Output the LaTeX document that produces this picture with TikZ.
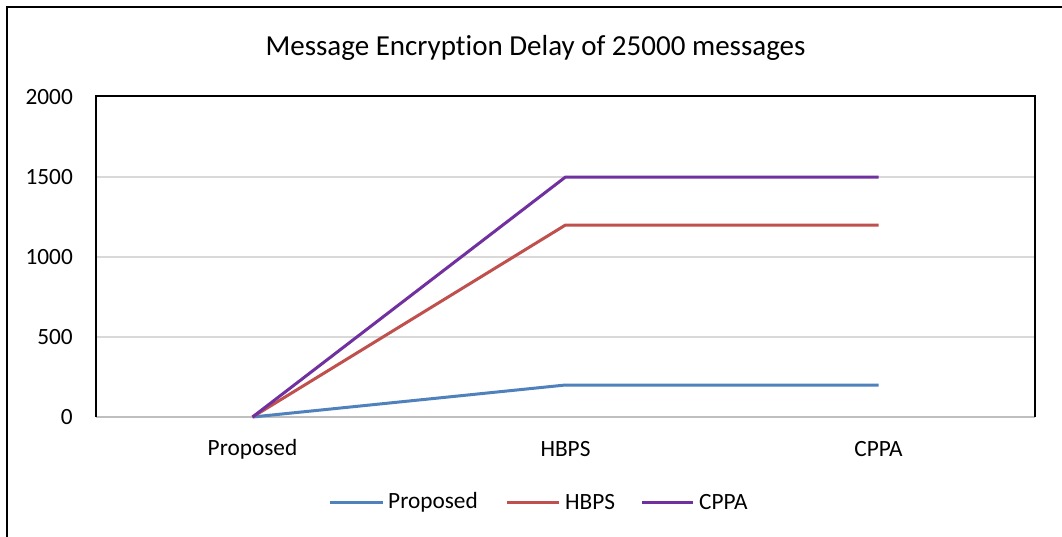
\documentclass[tikz,border=0pt]{standalone}
\usepackage{fontspec}
\setmainfont[Ligatures={NoCommon}]{Carlito}
\definecolor{serA}{HTML}{4F81BD}
\definecolor{serB}{HTML}{C0504D}
\definecolor{serC}{HTML}{7030A0}
\definecolor{gridc}{HTML}{D9D9D9}
\definecolor{axisc}{HTML}{BFBFBF}
\tikzset{
  lbl/.style={inner sep=0pt, font=\fontsize{23.3}{28}\selectfont},
  ticklbl/.style={lbl, anchor=east},
  titlelbl/.style={inner sep=0pt, font=\fontsize{29}{34}\selectfont},
  series/.style={line width=3pt, line join=round},
  gridln/.style={gridc, line width=1.5pt},
}
\begin{document}
\begin{tikzpicture}[x=1pt,y=-1pt]
\useasboundingbox (0,0) rectangle (1062,536);
\fill[white] (0,0) rectangle (1062,536);
% outer frame (top and left visible)
\draw[line width=2.2pt] (7,540) -- (7,7) -- (1065,7);
% title
\node[titlelbl] (title) at (535.5,48) {Message Encryption Delay of 25000 messages};
% gridlines
\foreach \yy in {177,257,337} \draw[gridln] (97,\yy) -- (1034,\yy);
% bottom axis
\draw[axisc, line width=2pt] (96,417) -- (1035,417);
% plot frame
\draw[line width=1.8pt] (96,417) -- (96,96) -- (1035,96) -- (1035,417);
% tick labels
\node[ticklbl] (t0) at (73,417) {0};
\node[ticklbl] (t1) at (73,337) {500};
\node[ticklbl] (t2) at (73,257) {1000};
\node[ticklbl] (t3) at (73,177) {1500};
\node[ticklbl] (t4) at (73,97) {2000};
% category labels
\node[lbl] (c1) at (252.5,449) {Proposed};
\node[lbl] (c2) at (565.5,449) {HBPS};
\node[lbl] (c3) at (878.5,449) {CPPA};
% data points
\coordinate (a1) at (252.5,417);
\coordinate (a2) at (565.5,385);
\coordinate (a3) at (878.5,385);
\coordinate (b1) at (252.5,417);
\coordinate (b2) at (565.5,225);
\coordinate (b3) at (878.5,225);
\coordinate (p1) at (252.5,417);
\coordinate (p2) at (565.5,177);
\coordinate (p3) at (878.5,177);
\draw[series, serA] (a1) -- (a2) -- (a3);
\draw[series, serB] (b1) -- (b2) -- (b3);
\draw[series, serC] (p1) -- (p2) -- (p3);
% legend
\coordinate (la1) at (330,502); \coordinate (la2) at (383,502);
\coordinate (lb1) at (507,502); \coordinate (lb2) at (559,502);
\coordinate (lc1) at (642,502); \coordinate (lc2) at (693,502);
\draw[series, serA] (la1) -- (la2);
\draw[series, serB] (lb1) -- (lb2);
\draw[series, serC] (lc1) -- (lc2);
\node[lbl, anchor=west] (ltA) at (388,502) {Proposed};
\node[lbl, anchor=west] (ltB) at (565,502) {HBPS};
\node[lbl, anchor=west] (ltC) at (699,502) {CPPA};
\end{tikzpicture}
\end{document}
